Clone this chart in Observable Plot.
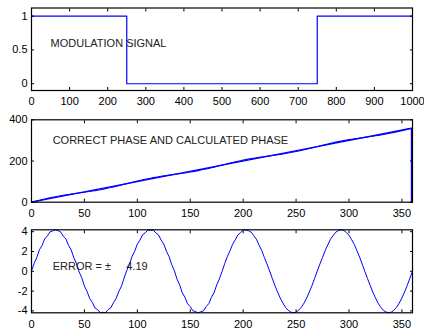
<!DOCTYPE html>
<html>
<head>
<meta charset="utf-8">
<script src="https://cdn.jsdelivr.net/npm/d3@7"></script>
<script src="https://cdn.jsdelivr.net/npm/@observablehq/plot@0.6"></script>
<style>
  body { margin: 0; background: #fff; }
  #chart svg { display: block; }
</style>
</head>
<body>
<div id="chart"></div>
<script>
// Modulation signal: on / off / on
const modTime = [0, 250, 250, 750, 750, 1000];
const modLevel = [1, 1, 0, 0, 1, 1];
const modTicks = [0, 100, 200, 300, 400, 500, 600, 700, 800, 900, 1000];

// Correct phase (degrees), wrapping back to 0 at the end of the turn
const phaseAngle = [0, 90, 180, 270, 359, 359];
const correctPhase = [0, 90, 180, 270, 359, 0];
const phaseXTicks = [0, 50, 100, 150, 200, 250, 300, 350];
const phaseYTicks = [0, 200, 400];

// Phase error (degrees) of the calculated phase against angle
const errorAmplitude = 4.19;
const errorAngle = [
  0, 2.5, 5, 7.5, 10, 12.5, 15, 17.5, 20, 22.5, 25, 27.5, 30, 32.5, 35, 37.5, 40, 42.5,
  45, 47.5, 50, 52.5, 55, 57.5, 60, 62.5, 65, 67.5, 70, 72.5, 75, 77.5, 80, 82.5, 85, 87.5,
  90, 92.5, 95, 97.5, 100, 102.5, 105, 107.5, 110, 112.5, 115, 117.5, 120, 122.5, 125, 127.5, 130, 132.5,
  135, 137.5, 140, 142.5, 145, 147.5, 150, 152.5, 155, 157.5, 160, 162.5, 165, 167.5, 170, 172.5, 175, 177.5,
  180, 182.5, 185, 187.5, 190, 192.5, 195, 197.5, 200, 202.5, 205, 207.5, 210, 212.5, 215, 217.5, 220, 222.5,
  225, 227.5, 230, 232.5, 235, 237.5, 240, 242.5, 245, 247.5, 250, 252.5, 255, 257.5, 260, 262.5, 265, 267.5,
  270, 272.5, 275, 277.5, 280, 282.5, 285, 287.5, 290, 292.5, 295, 297.5, 300, 302.5, 305, 307.5, 310, 312.5,
  315, 317.5, 320, 322.5, 325, 327.5, 330, 332.5, 335, 337.5, 340, 342.5, 345, 347.5, 350, 352.5, 355, 357.5, 360];
const errorValue = [
  0.05, 0.80, 1.38, 2.18, 2.62, 3.28, 3.58, 3.98, 4.08, 4.19, 4.10, 3.98, 3.55, 3.27, 2.62, 2.16, 1.37, 0.79,
  -0.06, -0.66, -1.49, -2.03, -2.75, -3.15, -3.70, -3.88, -4.17, -4.14, -4.17, -3.86, -3.68, -3.16, -2.74, -2.04, -1.50, -0.68,
  0.08, 0.68, 1.50, 2.03, 2.75, 3.15, 3.70, 3.89, 4.17, 4.13, 4.17, 3.87, 3.68, 3.15, 2.75, 2.03, 1.48, 0.67,
  0.06, -0.79, -1.38, -2.17, -2.63, -3.28, -3.56, -3.99, -4.07, -4.19, -4.09, -3.99, -3.56, -3.27, -2.63, -2.16, -1.38, -0.78,
  -0.04, 0.76, 1.47, 2.06, 2.73, 3.17, 3.67, 3.90, 4.16, 4.17, 4.10, 3.96, 3.60, 3.24, 2.66, 2.12, 1.40, 0.74,
  0.03, -0.71, -1.45, -2.08, -2.70, -3.20, -3.64, -3.93, -4.12, -4.18, -4.13, -3.92, -3.63, -3.21, -2.70, -2.09, -1.45, -0.72,
  0.02, 0.73, 1.41, 2.11, 2.67, 3.23, 3.61, 3.95, 4.11, 4.19, 4.13, 3.92, 3.64, 3.19, 2.71, 2.08, 1.44, 0.72,
  -0.02, -0.74, -1.42, -2.10, -2.68, -3.22, -3.62, -3.94, -4.12, -4.18, -4.12, -3.93, -3.63, -3.20, -2.69, -2.10, -1.43, -0.71, 0.0];
const errorYTicks = [-4, -2, 0, 2, 4];

const BLUE = "#0000ff";
const plain = d => String(d);

function axes(xTicks, yTicks) {
  return [
    Plot.frame({stroke: "#000", strokeWidth: 1.2}),
    Plot.axisX(xTicks, {anchor: "bottom", tickSize: -3, tickPadding: 10, tickFormat: plain, label: null}),
    Plot.axisX(xTicks, {anchor: "top", tickSize: -3, tickPadding: 0, tickFormat: () => "", label: null}),
    Plot.axisY(yTicks, {anchor: "left", tickSize: -3, tickPadding: 7, tickFormat: plain, label: null}),
    Plot.axisY(yTicks, {anchor: "right", tickSize: -3, tickPadding: 0, tickFormat: () => "", label: null})
  ];
}

function panel({height, marginTop, marginBottom, x, y, marks}) {
  return Plot.plot({
    width: 424,
    height,
    marginLeft: 31,
    marginRight: 12,
    marginTop,
    marginBottom,
    style: {fontFamily: "Arial, 'Liberation Sans', sans-serif", fontSize: "11px", color: "#000", background: "#fff"},
    x: {domain: x},
    y: {domain: y},
    marks
  });
}

const modData = modTime.map((t, i) => ({t, level: modLevel[i]}));
const correctData = phaseAngle.map((a, i) => ({a, phase: correctPhase[i]}));
const errorData = errorAngle.map((a, i) => ({a, err: errorValue[i]}));
// calculated phase = correct phase + phase error, up to the wrap
const calcData = errorData.filter(d => d.a < 359).map(({a, err}) => ({a, phase: a + err}));

const modPanel = panel({
  height: 110, marginTop: 7.5, marginBottom: 20,
  x: [0, 1000], y: [-0.1, 1.12],
  marks: [
    Plot.line(modData, {x: "t", y: "level", stroke: BLUE, strokeWidth: 1.2}),
    Plot.text(["MODULATION SIGNAL"], {x: 50, y: 0.6, text: d => d, textAnchor: "start", fill: "#222", fontSize: 11}),
    ...axes(modTicks, [0, 0.5, 1])
  ]
});

const phasePanel = panel({
  height: 110, marginTop: 9.3, marginBottom: 18.3,
  x: [0, 360], y: [0, 400],
  marks: [
    Plot.line(correctData, {x: "a", y: "phase", stroke: BLUE, strokeWidth: 1.3}),
    Plot.line(calcData, {x: "a", y: "phase", stroke: BLUE, strokeWidth: 1.1}),
    Plot.text(["CORRECT PHASE AND CALCULATED PHASE"], {x: 20, y: 300, text: d => d, textAnchor: "start", fill: "#222", fontSize: 11}),
    ...axes(phaseXTicks, phaseYTicks)
  ]
});

const errorPanel = panel({
  height: 109, marginTop: 9.3, marginBottom: 16.7,
  x: [0, 360], y: [-errorAmplitude, errorAmplitude],
  marks: [
    Plot.line(errorData, {x: "a", y: "err", stroke: BLUE, strokeWidth: 1}),
    Plot.text([`ERROR = \u00b1\u00a0\u00a0\u00a0\u00a0\u00a0${errorAmplitude}`], {x: 20, y: 0.5, text: d => d, textAnchor: "start", fill: "#222", fontSize: 11}),
    ...axes(phaseXTicks, errorYTicks)
  ]
});

document.getElementById("chart").append(modPanel, phasePanel, errorPanel);
</script>
</body>
</html>
